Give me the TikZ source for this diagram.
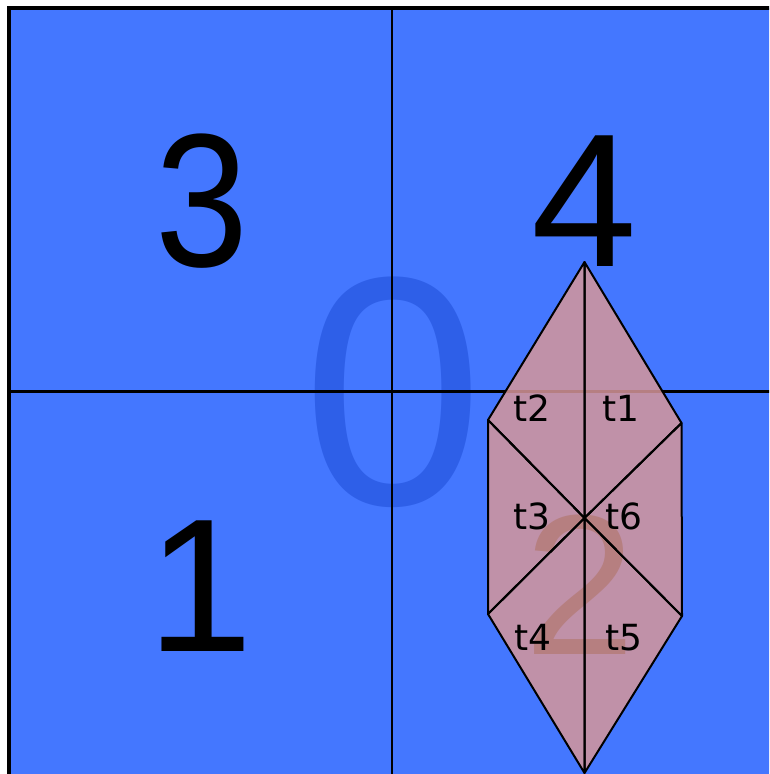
\documentclass[tikz,border=0pt]{standalone}
\usepackage{fontspec}
\setmainfont{Liberation Sans}
\newfontfamily\labfont{DejaVu Sans}
\definecolor{bgblue}{RGB}{68,119,255}
\definecolor{zeroblue}{RGB}{46,95,232}
\definecolor{triback}{RGB}{214,150,153}
\definecolor{twobrown}{RGB}{182,127,128}
\tikzset{
  gridline/.style={draw=black, line width=2.3pt},
  tri/.style={fill=triback, fill opacity=0.85},
  triedge/.style={draw=black, line width=2pt, line join=round},
  bigdigit/.style={inner sep=0pt, font=\fontsize{190}{190}\selectfont},
  lab/.style={inner sep=0pt, font=\labfont\fontsize{36}{36}\selectfont}
}
\begin{document}
\begin{tikzpicture}[x=1pt,y=-1pt]
\useasboundingbox (0,0) rectangle (769,774);
\clip (0,0) rectangle (769,774);
\fill[white] (0,0) rectangle (769,774);
\fill[bgblue] (9,7.7) rectangle (780,790);
% big zero
\node[inner sep=0pt, text=zeroblue, font=\fontsize{326}{326}\selectfont] (zero) at (393,392) {0};
% grid
\coordinate (gl) at (9,391.5);
\coordinate (gr) at (780,391.5);
\coordinate (gt) at (392,7.7);
\coordinate (gb) at (392,790);
\draw[gridline] (gl) -- (gr);
\draw[gridline] (gt) -- (gb);
\coordinate (bl) at (9,790);
\coordinate (tl) at (9,7.7);
\coordinate (tr) at (780,7.7);
\draw[black, line width=3.6pt] (bl) -- (tl) -- (tr);
% vertices
\coordinate (T) at (584.5,262);
\coordinate (UL) at (488,420);
\coordinate (UR) at (681.5,423);
\coordinate (C) at (584.5,518);
\coordinate (LL) at (488,614);
\coordinate (LR) at (682,616);
\coordinate (B) at (584.5,773);
% fills
\fill[tri] (T) -- (C) -- (UR) -- cycle;
\fill[tri] (T) -- (C) -- (UL) -- cycle;
\fill[tri] (UL) -- (C) -- (LL) -- cycle;
\fill[tri] (LL) -- (C) -- (B) -- cycle;
\fill[tri] (B) -- (C) -- (LR) -- cycle;
\fill[tri] (LR) -- (C) -- (UR) -- cycle;
% big two
\node[inner sep=0pt, text=twobrown, font=\fontsize{200}{200}\selectfont] (two) at (580,585) {2};
% edges
\draw[triedge] (T) -- (C) -- (UR) -- cycle;
\draw[triedge] (T) -- (C) -- (UL) -- cycle;
\draw[triedge] (UL) -- (C) -- (LL) -- cycle;
\draw[triedge] (LL) -- (C) -- (B) -- cycle;
\draw[triedge] (B) -- (C) -- (LR) -- cycle;
\draw[triedge] (LR) -- (C) -- (UR) -- cycle;
% labels
\node[lab] (t1) at (621,408) {t1};
\node[lab] (t2) at (532,408) {t2};
\node[lab] (t3) at (532,516) {t3};
\node[lab] (t4) at (533,637) {t4};
\node[lab] (t5) at (624,638) {t5};
\node[lab] (t6) at (624,516) {t6};
% quadrant digits
\node[bigdigit, xscale=0.88] (q3) at (202,201) {3};
\node[bigdigit] (q4) at (584,201) {4};
\node[bigdigit] (q1) at (200,586) {1};
\end{tikzpicture}
\end{document}
